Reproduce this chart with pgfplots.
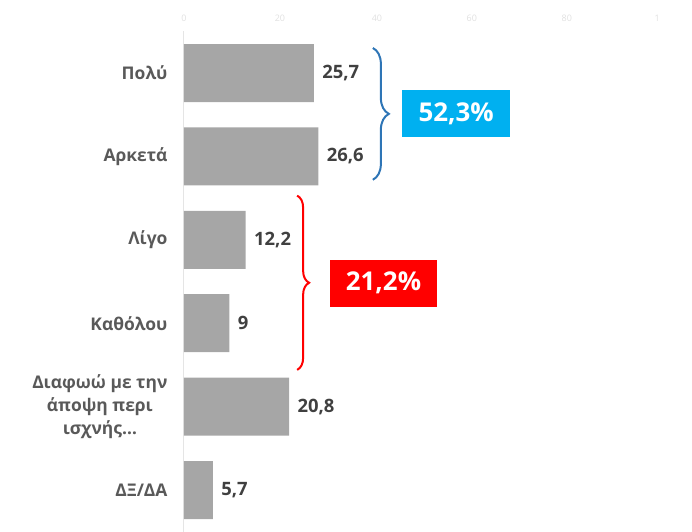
\documentclass[border=0pt]{standalone}
\usepackage{fontspec}
\setmainfont{Open Sans}
\usepackage{pgfplots}
\pgfplotsset{compat=1.18}
\usetikzlibrary{decorations.pathreplacing}
\definecolor{bargray}{HTML}{A6A6A6}
\definecolor{labelgray}{HTML}{595959}
\definecolor{valgray}{HTML}{404040}
\definecolor{tickgray}{HTML}{E0E0E0}
\definecolor{braceblue}{HTML}{2E75B6}
\definecolor{boxblue}{HTML}{00B0F0}
\definecolor{boxred}{HTML}{FF0000}
\begin{document}
\begin{tikzpicture}
\begin{axis}[
  scale only axis, width=505bp, height=500.4bp,
  xbar, bar width=58bp,
  xmin=0, xmax=100, ymin=-0.5, ymax=5.5, y dir=reverse,
  axis x line*=top, axis y line*=left,
  x axis line style={draw=none},
  y axis line style={draw=gray!20, line width=1pt},
  xtick={0,19.0,38.2,57.0,75.8,93.7},
  xticklabels={0,20,40,60,80,1},
  ytick={0,1,2,3,4,5},
  yticklabels={Πολύ,Αρκετά,Λίγο,Καθόλου,{Διαφωώ με την\\άποψη περι\\ισχνής…},ΔΞ/ΔΑ},
  major tick length=0pt,
  xticklabel style={font=\fontsize{9}{10}\selectfont, text=tickgray, yshift=6bp},
  yticklabel style={font=\fontsize{17.5}{23}\selectfont\bfseries, text=labelgray, align=center, xshift=-13bp},
  nodes near coords,
  every node near coord/.append style={font=\fontsize{18.5}{21}\selectfont\bfseries, text=valgray, anchor=west, xshift=5bp},
  clip=false,
  /pgf/number format/use comma,
  /pgf/number format/fixed,
  /pgf/number format/precision=1,
  /pgf/number format/assume math mode=true,
]
\addplot[fill=bargray, draw=none] coordinates {(25.7,0) (26.6,1) (12.2,2) (9,3) (20.8,4) (5.7,5)};
\draw[decorate, decoration={brace, amplitude=16bp}, line width=2bp, color=braceblue]
  (axis cs:37.4,-0.3) -- (axis cs:37.4,1.28);
\draw[decorate, decoration={brace, amplitude=12bp}, line width=2bp, color=boxred]
  (axis cs:22.4,1.47) -- (axis cs:22.4,3.56);
\node[fill=boxblue, text=white, font=\fontsize{26}{30}\selectfont\bfseries, minimum width=108bp, minimum height=47bp, inner sep=0pt]
  at (axis cs:53.9,0.486) {52,3\%};
\node[fill=boxred, text=white, font=\fontsize{26}{30}\selectfont\bfseries, minimum width=107bp, minimum height=47bp, inner sep=0pt]
  at (axis cs:39.5,2.52) {21,2\%};
\end{axis}
\pgfresetboundingbox
\path (current axis.south west) ++(-184bp,2.7bp) rectangle ++(692bp,529bp);
\end{tikzpicture}
\end{document}
